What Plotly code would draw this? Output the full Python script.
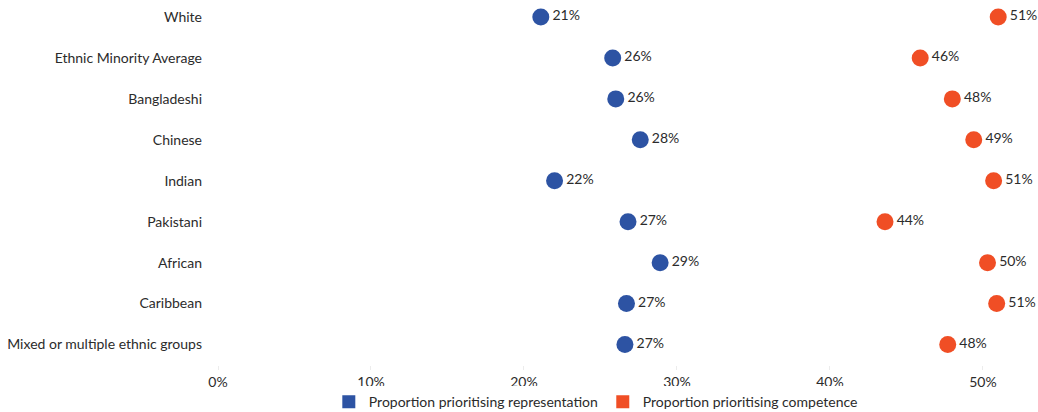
import plotly.graph_objects as go

# Ethnic groups, top to bottom
groups = [
    "White",
    "Ethnic Minority Average",
    "Bangladeshi",
    "Chinese",
    "Indian",
    "Pakistani",
    "African",
    "Caribbean",
    "Mixed or multiple ethnic groups",
]

# Share of each group prioritising representation / competence (%)
representation = [21.1, 25.8, 26.0, 27.6, 22.0, 26.8, 28.9, 26.7, 26.6]
competence = [51.0, 45.9, 48.0, 49.4, 50.7, 43.6, 50.3, 50.9, 47.7]

x_ticks = [0, 10, 20, 30, 40, 50]
x_tick_labels = ["0%", "10%", "20%", "30%", "40%", "50%"]

BLUE = "#2D53A3"
RED = "#F04E25"
TEXT = "#2b2b2b"
FONT = "Lato"
SIZE = 14

fig = go.Figure()

for name, values, colour in [
    ("Proportion prioritising representation", representation, BLUE),
    ("Proportion prioritising competence", competence, RED),
]:
    fig.add_trace(go.Scatter(
        x=values,
        y=groups,
        mode="markers+text",
        marker=dict(size=17, color=colour),
        text=[f"{round(v)}%" for v in values],
        textposition="middle right",
        textfont=dict(family=FONT, size=SIZE, color=TEXT),
        showlegend=False,
        hoverinfo="skip",
        cliponaxis=False,
    ))
    # square swatch for the legend
    fig.add_trace(go.Scatter(
        x=[None], y=[None],
        mode="markers",
        marker=dict(size=13, color=colour, symbol="square"),
        name=name,
        showlegend=True,
    ))

fig.update_layout(
    width=1038,
    height=412,
    margin=dict(l=218, r=0, t=0, b=47, autoexpand=False),
    paper_bgcolor="white",
    plot_bgcolor="white",
    font=dict(family=FONT, size=SIZE, color=TEXT),
    legend=dict(
        orientation="h",
        x=0.574,
        xref="container",
        xanchor="center",
        y=0.024,
        yref="container",
        yanchor="middle",
        font=dict(family=FONT, size=SIZE, color=TEXT),
        itemclick=False,
        itemdoubleclick=False,
    ),
    xaxis=dict(
        range=[0, 53.6],
        tickvals=x_ticks,
        ticktext=x_tick_labels,
        showgrid=False,
        zeroline=False,
        showline=False,
        ticks="outside",
        ticklen=4,
        tickcolor="#ececec",
        tickfont=dict(family=FONT, size=SIZE, color=TEXT),
        fixedrange=True,
        automargin=False,
    ),
    yaxis=dict(
        categoryorder="array",
        categoryarray=groups,
        range=[8.5, -0.415],
        showgrid=False,
        zeroline=False,
        showline=False,
        ticks="",
        ticklabelstandoff=15,
        tickfont=dict(family=FONT, size=SIZE, color=TEXT),
        fixedrange=True,
        automargin=False,
    ),
)

fig.write_html("out.html")
